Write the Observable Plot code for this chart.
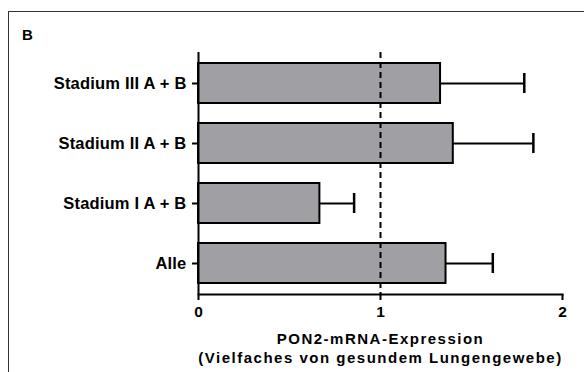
<!DOCTYPE html>
<html>
<head>
<meta charset="utf-8">
<script src="https://cdn.jsdelivr.net/npm/d3@7"></script>
<script src="https://cdn.jsdelivr.net/npm/@observablehq/plot@0.6"></script>
<style>
  body { margin: 0; background: #fff; }
  #wrap { position: relative; width: 584px; height: 372px; overflow: hidden; font-family: "Liberation Sans", Arial, sans-serif; }
  #border { position: absolute; left: 8px; top: 11px; width: 620px; height: 420px; border: 1px solid #333; box-sizing: border-box; }
  #panel { position: absolute; left: 22px; top: 27px; font-weight: bold; font-size: 15px; line-height: 1; color: #000; }
  #chart { position: absolute; left: 0; top: 0; }
  #chart text { font-family: "Liberation Sans", Arial, sans-serif; }
  .xtitle text { letter-spacing: 1.5px; }
  .ylab text { letter-spacing: 0.2px; }
</style>
</head>
<body>
<div id="wrap">
  <div id="border"></div>
  <div id="panel">B</div>
  <div id="chart"></div>
</div>
<script>
const categories = ["Stadium III A + B", "Stadium II A + B", "Stadium I A + B", "Alle"];
const means = [1.33, 1.40, 0.667, 1.36];
const upperErr = [1.79, 1.84, 0.855, 1.617];
const xTicks = [0, 1, 2];
const reference = [1];
const xTitle = "PON2-mRNA-Expression\n(Vielfaches von gesundem Lungengewebe)";

const data = categories.map((c, i) => ({cat: c, mean: means[i], upper: upperErr[i]}));

const plot = Plot.plot({
  width: 584,
  height: 372,
  marginLeft: 198,
  marginRight: 22,
  marginTop: 52,
  marginBottom: 78,
  style: {fontFamily: "'Liberation Sans', Arial, sans-serif", background: "transparent", color: "#000"},
  x: {domain: [0, 2], ticks: xTicks},
  y: {domain: categories, paddingInner: 0.33, paddingOuter: 0.16},
  marks: [
    Plot.barX(data, {y: "cat", x: "mean", fill: "#a09fa4", stroke: "#000", strokeWidth: 2}),
    Plot.ruleY(data, {y: "cat", x1: "mean", x2: "upper", stroke: "#000", strokeWidth: 2}),
    Plot.tickX(data, {y: "cat", x: "upper", stroke: "#000", strokeWidth: 2.5, insetTop: 10, insetBottom: 10}),
    Plot.ruleX(reference, {stroke: "#000", strokeWidth: 2, strokeDasharray: "6,4"}),
    Plot.ruleX([0], {stroke: "#000", strokeWidth: 2}),
    Plot.frame({anchor: "bottom", stroke: "#000", strokeWidth: 2}),
    Plot.axisY({tickSize: 6, tickPadding: 6, strokeWidth: 2, fontSize: 16.5, fontWeight: "bold", label: null, className: "ylab"}),
    Plot.axisX({ticks: xTicks, tickSize: 6, tickPadding: 5, strokeWidth: 2, fontSize: 15.5, fontWeight: "bold", label: null, tickFormat: d => String(d)}),
    Plot.text([xTitle], {frameAnchor: "bottom", dy: 35, lineAnchor: "top", lineHeight: 1.32, fontSize: 15, fontWeight: "bold", className: "xtitle"})
  ]
});
document.getElementById("chart").appendChild(plot);
</script>
</body>
</html>
